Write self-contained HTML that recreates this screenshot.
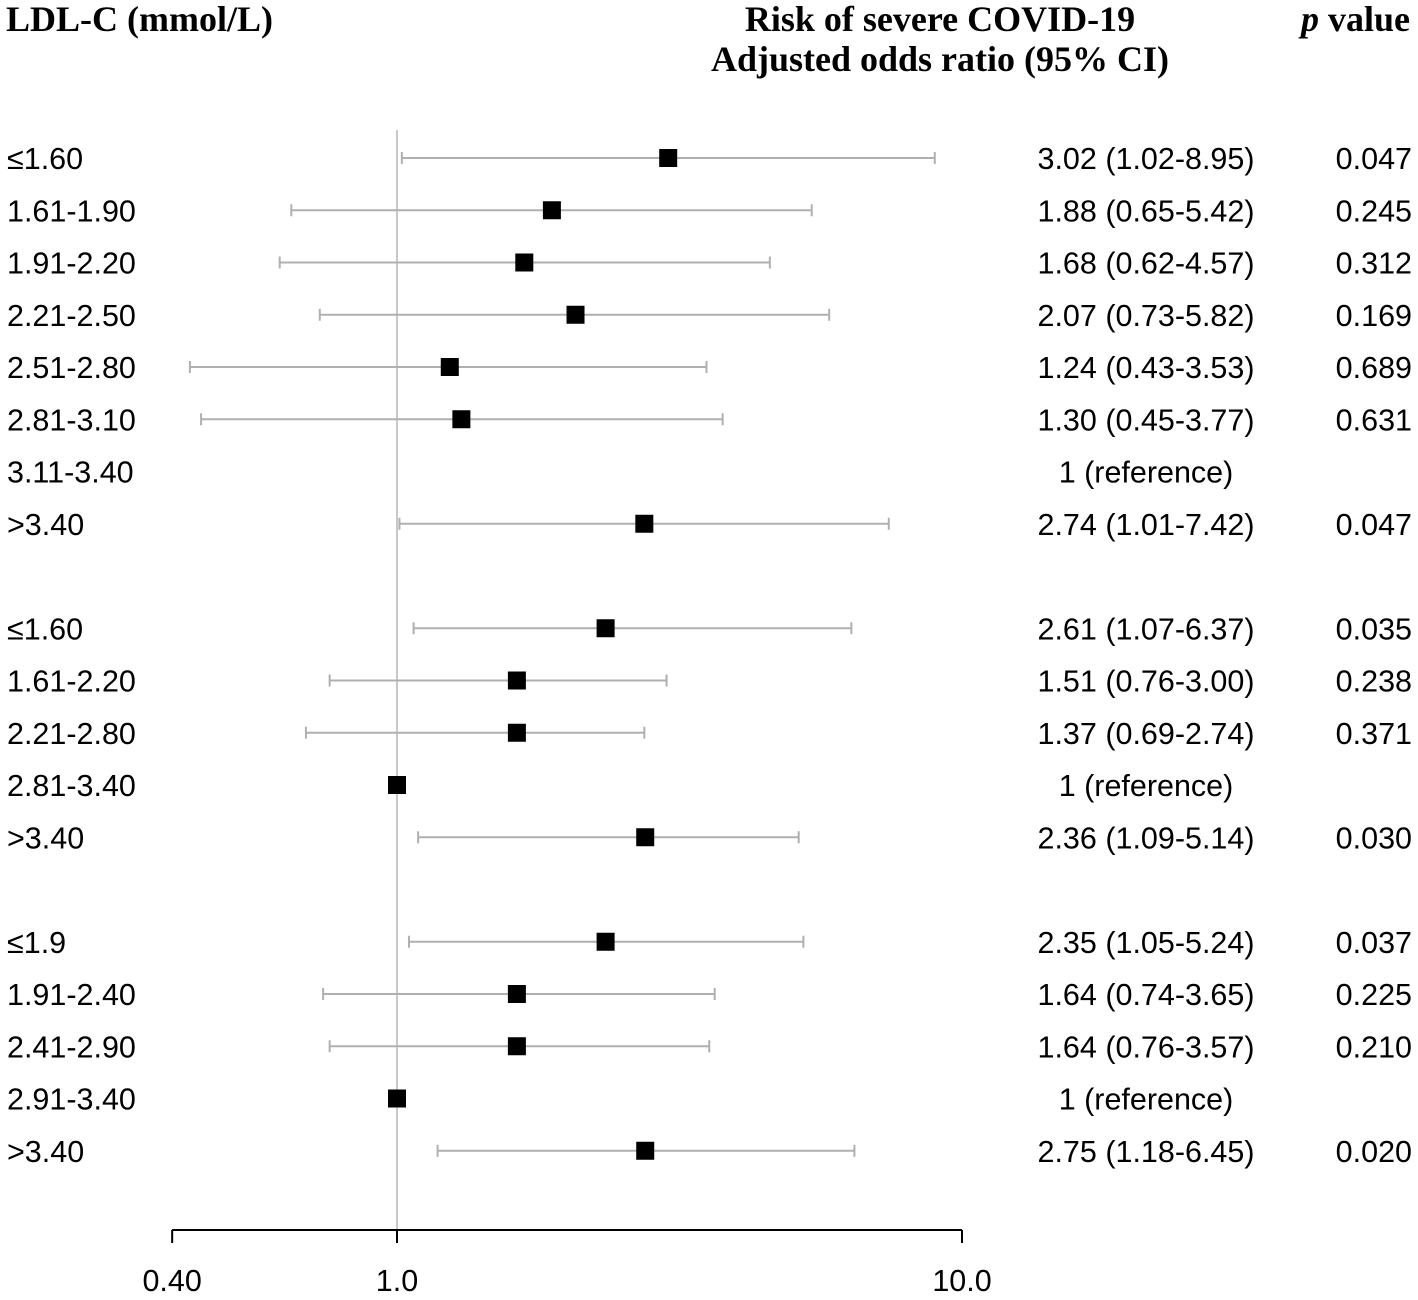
<!DOCTYPE html>
<html><head><meta charset="utf-8"><style>
body{margin:0;background:#fff}
svg{display:block}
.t{font-family:"Liberation Sans",Arial,sans-serif;font-size:30.5px;fill:#000}
.h{font-family:"Liberation Serif","Times New Roman",serif;font-size:36px;font-weight:bold;fill:#000}
</style></head><body>
<svg id="c" width="1418" height="1300">
<text class="h" x="6" y="31">LDL-C (mmol/L)</text>
<text class="h" x="940" y="31" text-anchor="middle">Risk of severe COVID-19</text>
<text class="h" x="940" y="71" text-anchor="middle">Adjusted odds ratio (95% CI)</text>
<text class="h" x="1410" y="31" text-anchor="end"><tspan font-style="italic">p</tspan> value</text>
<g id="marks"></g>
</svg>
<script>
const labels=["≤1.60","1.61-1.90","1.91-2.20","2.21-2.50","2.51-2.80","2.81-3.10","3.11-3.40",">3.40","≤1.60","1.61-2.20","2.21-2.80","2.81-3.40",">3.40","≤1.9","1.91-2.40","2.41-2.90","2.91-3.40",">3.40"];
const rowPos=[0,1,2,3,4,5,6,7,9,10,11,12,13,15,16,17,18,19];
const orVals=[3.02,1.88,1.68,2.07,1.24,1.30,null,2.74,2.34,1.63,1.63,1,2.75,2.34,1.63,1.63,1,2.75];
const ciLow=[1.02,0.65,0.62,0.73,0.43,0.45,null,1.01,1.07,0.76,0.69,null,1.09,1.05,0.74,0.76,null,1.18];
const ciHigh=[8.95,5.42,4.57,5.82,3.53,3.77,null,7.42,6.37,3.00,2.74,null,5.14,5.24,3.65,3.57,null,6.45];
const orText=["3.02 (1.02-8.95)","1.88 (0.65-5.42)","1.68 (0.62-4.57)","2.07 (0.73-5.82)","1.24 (0.43-3.53)","1.30 (0.45-3.77)","1 (reference)","2.74 (1.01-7.42)","2.61 (1.07-6.37)","1.51 (0.76-3.00)","1.37 (0.69-2.74)","1 (reference)","2.36 (1.09-5.14)","2.35 (1.05-5.24)","1.64 (0.74-3.65)","1.64 (0.76-3.57)","1 (reference)","2.75 (1.18-6.45)"];
const pText=["0.047","0.245","0.312","0.169","0.689","0.631","","0.047","0.035","0.238","0.371","","0.030","0.037","0.225","0.210","","0.020"];
const ticks=[0.4,1,10];
const tickLabels=["0.40","1.0","10.0"];
const X=v=>397+565*Math.log10(v);
const Y=r=>158+52.25*r;
const g=document.getElementById('marks');
const NS="http://www.w3.org/2000/svg";
function mk(tag,at){const e=document.createElementNS(NS,tag);for(const k in at)e.setAttribute(k,at[k]);g.appendChild(e);return e;}
let e=mk('line',{x1:X(1),x2:X(1),y1:130,y2:1230,stroke:'#c8c8c8','stroke-width':2});


e=mk('line',{x1:X(0.4),x2:X(10),y1:1230,y2:1230,stroke:'#000','stroke-width':2});


ticks.forEach((t,i)=>{
 e=mk('line',{x1:X(t),x2:X(t),y1:1230,y2:1243,stroke:'#000','stroke-width':2});
 
 
 e=mk('text',{x:X(t),y:1291,'text-anchor':'middle',class:'t'});e.textContent=tickLabels[i];
 
 
});
labels.forEach((l,i)=>{
 const y=Y(rowPos[i]);
 e=mk('text',{x:7,y:y+11,class:'t'});e.textContent=l;
 
 
 e=mk('text',{x:1146,y:y+11,class:'t','text-anchor':'middle'});e.textContent=orText[i];
 
 
 if(pText[i]){e=mk('text',{x:1412,y:y+11,class:'t','text-anchor':'end'});e.textContent=pText[i];
 
 }
 if(ciLow[i]!=null){
  const a=X(ciLow[i]),b=X(ciHigh[i]);
  e=mk('path',{d:`M${a},${y}H${b}M${a},${y-6}V${y+6}M${b},${y-6}V${y+6}`,stroke:'#b0b0b0','stroke-width':2,fill:'none'});
  
  
 }
 if(orVals[i]!=null){
  e=mk('rect',{x:X(orVals[i])-9,y:y-9,width:18,height:18,fill:'#000'});
  
  
 }
});
</script>
</body></html>
